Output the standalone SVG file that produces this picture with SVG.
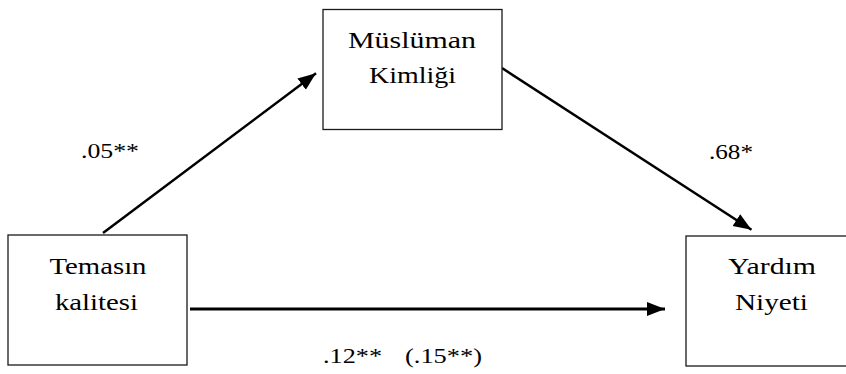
<svg xmlns="http://www.w3.org/2000/svg" width="846" height="374" viewBox="0 0 846 374">
<style>
.box{fill:#fff;stroke:#1a1a1a;stroke-width:1.3}
.lbl{font-family:'Liberation Serif','Times New Roman',serif;font-size:24px;fill:#000;text-anchor:middle}
.num{font-family:'Liberation Serif','Times New Roman',serif;font-size:20.5px;fill:#000}
.edge{stroke:#000;fill:none}
</style>
<defs>
<marker id="ah" markerUnits="userSpaceOnUse" markerWidth="19" markerHeight="16" viewBox="0 0 19 16" refX="18" refY="8" orient="auto">
<path d="M0,1 L18,8 L0,15 z" fill="#000"/>
</marker>
</defs>
<rect width="846" height="374" fill="#fff"/>
<g id="connectors">
<line class="edge" x1="103" y1="233" x2="316" y2="73.3" stroke-width="2.5" marker-end="url(#ah)"/>
<line class="edge" x1="502" y1="68" x2="751.5" y2="229.8" stroke-width="2.5" marker-end="url(#ah)"/>
<line class="edge" x1="190" y1="309" x2="665" y2="309" stroke-width="3" marker-end="url(#ah)"/>
</g>
<g id="node-muslim">
<rect class="box" x="323" y="9.5" width="179" height="120"/>
<text class="lbl" x="412" y="48" textLength="128" lengthAdjust="spacingAndGlyphs">Müslüman</text>
<text class="lbl" x="412.5" y="83" textLength="87" lengthAdjust="spacingAndGlyphs">Kimliği</text>
</g>
<g id="node-contact">
<rect class="box" x="8" y="235" width="179" height="130"/>
<text class="lbl" x="98" y="274" textLength="97" lengthAdjust="spacingAndGlyphs">Temasın</text>
<text class="lbl" x="96.5" y="310" textLength="83" lengthAdjust="spacingAndGlyphs">kalitesi</text>
</g>
<g id="node-help">
<rect class="box" x="686" y="236" width="176" height="130"/>
<text class="lbl" x="772" y="274" textLength="88" lengthAdjust="spacingAndGlyphs">Yardım</text>
<text class="lbl" x="771.5" y="310" textLength="73" lengthAdjust="spacingAndGlyphs">Niyeti</text>
</g>
<g id="edge-labels">
<text class="num" x="81" y="158" textLength="58" lengthAdjust="spacingAndGlyphs">.05**</text>
<text class="num" x="709" y="159" textLength="44" lengthAdjust="spacingAndGlyphs">.68*</text>
<text class="num" x="323" y="363" textLength="59" lengthAdjust="spacingAndGlyphs">.12**</text>
<text class="num" x="405" y="363" textLength="77" lengthAdjust="spacingAndGlyphs">(.15**)</text>
</g>
</svg>
